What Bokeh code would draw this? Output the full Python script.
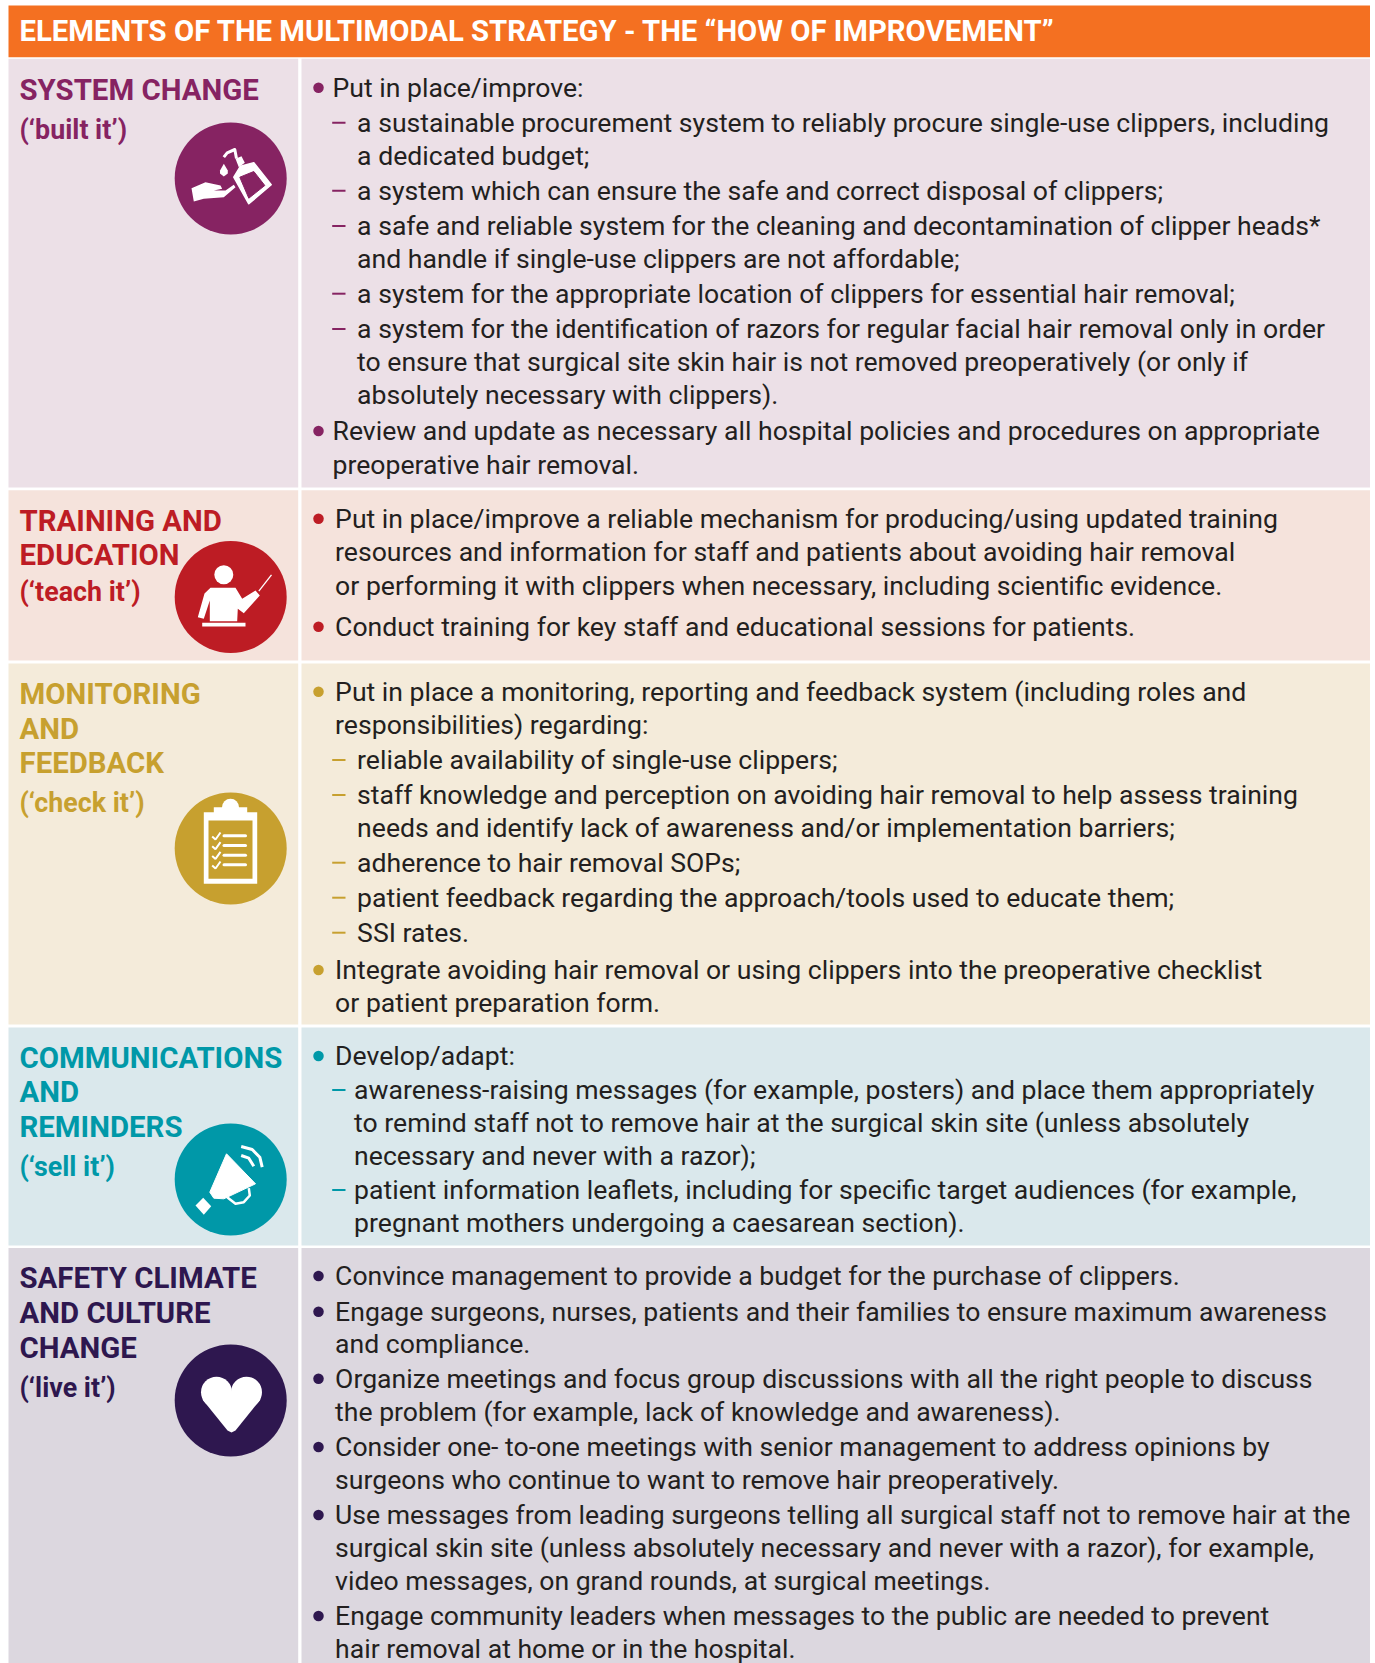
from bokeh.plotting import figure
from bokeh.models import Range1d
from bokeh.core.properties import value
from bokeh.embed import file_html
from bokeh.resources import INLINE

FONT = "Roboto"
TITLE = "ELEMENTS OF THE MULTIMODAL STRATEGY - THE \u201cHOW OF IMPROVEMENT\u201d"

row_fill = ["#ece0e7", "#f5e3dc", "#f4ebda", "#dae8ec", "#dcd7df"]
row_color = ["#862362", "#bd1c24", "#c7a02f", "#0098a8", "#2e174f"]
row_top = [58.3, 489.7, 663, 1027, 1247.5]
row_bottom = [487, 660, 1024, 1245, 1663]
heads = [
    ["SYSTEM CHANGE"],
    ["TRAINING AND", "EDUCATION"],
    ["MONITORING", "AND", "FEEDBACK"],
    ["COMMUNICATIONS", "AND", "REMINDERS"],
    ["SAFETY CLIMATE", "AND CULTURE", "CHANGE"],
]
subheads = ["(\u2018built it\u2019)", "(\u2018teach it\u2019)", "(\u2018check it\u2019)", "(\u2018sell it\u2019)", "(\u2018live it\u2019)"]
head_base = [
    [100],
    [531, 565.3],
    [704, 739, 773],
    [1068, 1102.3, 1137.3],
    [1288, 1323, 1358],
]
sub_base = [139, 601, 812, 1176, 1397]
icon_cy = [178, 596.5, 848, 1179, 1400]

rows = [
    [
        ("b", "Put in place/improve:", 96.7, 332),
        ("d", "a sustainable procurement system to reliably procure single-use clippers, including", 131.7, 356.6),
        ("c", "a dedicated budget;", 165, 356.6),
        ("d", "a system which can ensure the safe and correct disposal of clippers;", 199.7, 356.6),
        ("d", "a safe and reliable system for the cleaning and decontamination of clipper heads*", 235, 356.6),
        ("c", "and handle if single-use clippers are not affordable;", 268, 356.6),
        ("d", "a system for the appropriate location of clippers for essential hair removal;", 302.7, 356.6),
        ("d", "a system for the identification of razors for regular facial hair removal only in order", 338, 356.6),
        ("c", "to ensure that surgical site skin hair is not removed preoperatively (or only if", 370.7, 356.6),
        ("c", "absolutely necessary with clippers).", 404, 356.6),
        ("b", "Review and update as necessary all hospital policies and procedures on appropriate", 440, 332),
        ("c", "preoperative hair removal.", 474, 332),
    ],
    [
        ("b", "Put in place/improve a reliable mechanism for producing/using updated training", 527.7, 334.6),
        ("c", "resources and information for staff and patients about avoiding hair removal", 560.7, 334.6),
        ("c", "or performing it with clippers when necessary, including scientific evidence.", 595, 334.6),
        ("b", "Conduct training for key staff and educational sessions for patients.", 635.7, 334.6),
    ],
    [
        ("b", "Put in place a monitoring, reporting and feedback system (including roles and", 700.7, 334.6),
        ("c", "responsibilities) regarding:", 734, 334.6),
        ("d", "reliable availability of single-use clippers;", 769, 356.6),
        ("d", "staff knowledge and perception on avoiding hair removal to help assess training", 804, 356.6),
        ("c", "needs and identify lack of awareness and/or implementation barriers;", 836.7, 356.6),
        ("d", "adherence to hair removal SOPs;", 871.7, 356.6),
        ("d", "patient feedback regarding the approach/tools used to educate them;", 906.7, 356.6),
        ("d", "SSI rates.", 941.7, 356.6),
        ("b", "Integrate avoiding hair removal or using clippers into the preoperative checklist", 979, 334.6),
        ("c", "or patient preparation form.", 1012, 334.6),
    ],
    [
        ("b", "Develop/adapt:", 1065, 334.6),
        ("d", "awareness-raising messages (for example, posters) and place them appropriately", 1099, 353.6),
        ("c", "to remind staff not to remove hair at the surgical skin site (unless absolutely", 1131.7, 353.6),
        ("c", "necessary and never with a razor);", 1165, 353.6),
        ("d", "patient information leaflets, including for specific target audiences (for example,", 1199, 353.6),
        ("c", "pregnant mothers undergoing a caesarean section).", 1231.7, 353.6),
    ],
    [
        ("b", "Convince management to provide a budget for the purchase of clippers.", 1285, 334.6),
        ("b", "Engage surgeons, nurses, patients and their families to ensure maximum awareness", 1320.7, 334.6),
        ("c", "and compliance.", 1353, 334.6),
        ("b", "Organize meetings and focus group discussions with all the right people to discuss", 1387.7, 334.6),
        ("c", "the problem (for example, lack of knowledge and awareness).", 1420.7, 334.6),
        ("b", "Consider one- to-one meetings with senior management to address opinions by", 1456, 334.6),
        ("c", "surgeons who continue to want to remove hair preoperatively.", 1489, 334.6),
        ("b", "Use messages from leading surgeons telling all surgical staff not to remove hair at the", 1524, 334.6),
        ("c", "surgical skin site (unless absolutely necessary and never with a razor), for example,", 1556.7, 334.6),
        ("c", "video messages, on grand rounds, at surgical meetings.", 1590, 334.6),
        ("b", "Engage community leaders when messages to the public are needed to prevent", 1625, 334.6),
        ("c", "hair removal at home or in the hospital.", 1658, 334.6),
    ],
]

W, H = 1375, 1663
BODY, HEAD, SUB, TTL = 26.6, 29.4, 26.8, 29.3
K = 0.36
p = figure(width=W, height=H, x_range=Range1d(0, W), y_range=Range1d(H, 0),
           output_backend="svg", toolbar_location=None, min_border=0,
           outline_line_color=None, background_fill_color="white",
           border_fill_color="white", margin=(0, 0, 0, 0))
p.axis.visible = False
p.grid.visible = False

p.quad(left=[8], right=[1369.5], top=[5], bottom=[56.7], fill_color="#f47021", line_color=None)
p.text(x=[19], y=[40.7 - K*TTL], text=[TITLE], text_font=value(FONT), text_font_style="bold",
       text_font_size=f"{TTL}px", text_color="white", text_baseline="alphabetic")

p.quad(left=[8]*5, right=[297.7]*5, top=row_top, bottom=row_bottom, fill_color=row_fill, line_color=None)
p.quad(left=[301]*5, right=[1369.5]*5, top=row_top, bottom=row_bottom, fill_color=row_fill, line_color=None)

for i in range(5):
    c = row_color[i]
    hl = heads[i]
    p.text(x=[19]*len(hl), y=[b - K*HEAD for b in head_base[i]], text=hl, text_font=value(FONT),
           text_font_style="bold", text_font_size=f"{HEAD}px", text_color=c, text_baseline="alphabetic")
    p.text(x=[19], y=[sub_base[i] - K*SUB], text=[subheads[i]], text_font=value(FONT),
           text_font_style="bold", text_font_size=f"{SUB}px", text_color=c, text_baseline="alphabetic")
    p.scatter(x=[230.2], y=[icon_cy[i]], size=112, marker="circle", fill_color=c, line_color=None)
    lines = rows[i]
    p.text(x=[l[3] for l in lines], y=[l[2] - K*BODY for l in lines], text=[l[1] for l in lines],
           text_font=value(FONT), text_font_size=f"{BODY}px", text_color="#231f20", text_baseline="alphabetic")
    bl = [l for l in lines if l[0] == "b"]
    p.scatter(x=[318]*len(bl), y=[l[2]-9.5 for l in bl], size=10.5, marker="circle", fill_color=c, line_color=None)
    dl = [l for l in lines if l[0] == "d"]
    ys = [l[2]-9.5 for l in dl]
    p.segment(x0=[331.7]*len(dl), x1=[345]*len(dl), y0=ys, y1=ys, line_color=c, line_width=2)

WH = "white"
def poly(xs, ys, color=WH):
    p.patch(xs, ys, fill_color=color, line_color=None)

# pictogram 1: soap bottle and hand
poly([191,205,220,221.7,213.3,225,233.3,235,223.3,203.3,193.3], [187.7,181.7,185,188.3,190,190,184.3,186.7,196.7,198.3,201])
p.patch([233.3,240,253.3,270.7,248.3], [176.7,165.7,162.3,184.3,203.3], fill_color=WH, line_color=WH, line_width=1.5, line_join="round")
p.patch([239.3,253.3,264.3,248.3], [176.7,171,185,197.7], fill_color=row_color[0], line_color=row_color[0], line_width=1, line_join="round")
poly([235,241,244.3,238.3], [158.3,155.7,162.3,166.7])
p.line([223.3,226.7,234.3,236], [156.7,152.3,149,158], line_color=WH, line_width=3, line_join="round")
poly([223.3,227.3,227.3,223.3,219.5,219.5], [163.3,170,173,176,173,170])

# pictogram 2: teacher
p.scatter(x=[223.3], y=[574.3], size=19, marker="circle", fill_color=WH, line_color=None)
poly([210,235,241.7,255,259.3,243.3,237.3,236.7,209.3,209.3,203.3,197.3,204],
     [587.3,587.3,598.3,590,595,612.7,608.3,620.7,620.7,600,618.3,616.7,593])
p.line([258.3,271], [590.7,574.3], line_color=WH, line_width=1.3)
p.quad(left=[201.7], right=[245], top=[622.3], bottom=[626], fill_color=WH, line_color=None)

# pictogram 3: clipboard
p.quad(left=[203.3], right=[256.7], top=[811.7], bottom=[883.3], fill_color=WH, line_color=None)
p.quad(left=[213.3], right=[246.7], top=[806.7], bottom=[813.3], fill_color=WH, line_color=None)
p.scatter(x=[230], y=[806.7], size=17, marker="circle", fill_color=WH, line_color=None)
p.quad(left=[208], right=[252], top=[820], bottom=[878.3], fill_color=row_color[2], line_color=None)
ly = [835.3, 845, 854.7, 864.3]
p.segment(x0=[223.5]*4, x1=[245]*4, y0=ly, y1=ly, line_color=WH, line_width=3, line_cap="round")
p.multi_line([[211.7,215,220] for _ in ly], [[y+0.7,y+3.7,y-3.3] for y in ly], line_color=WH, line_width=2)

# pictogram 4: megaphone
p.patch([226,255,223.3,213.3,209.3], [1153.3,1183.3,1198.3,1197.7,1191.7], fill_color=WH, line_color=WH, line_width=1, line_join="round")
poly([195,202.7,210.7,203.3], [1205,1197.3,1205.7,1214.3])
p.line([248.3,249.3,243.3,235,226.7], [1187.7,1195,1201.7,1203.3,1196.7], line_color=WH, line_width=2.5, line_join="round")
p.line([240.7,251.7,259.3,261.7], [1146,1149,1156.7,1166.7], line_color=WH, line_width=3, line_join="round")
p.line([240.7,248.3,253.3], [1155,1157.7,1165.7], line_color=WH, line_width=3, line_join="round")

# pictogram 5: heart
p.scatter(x=[216, 246], y=[1391.7, 1391.7], size=31, marker="circle", fill_color=WH, line_color=None)
poly([202,216,231,246,260,235,231,227], [1399,1392,1392,1392,1399,1430,1432,1430])

open("out.html", "w").write(file_html(p, INLINE))
